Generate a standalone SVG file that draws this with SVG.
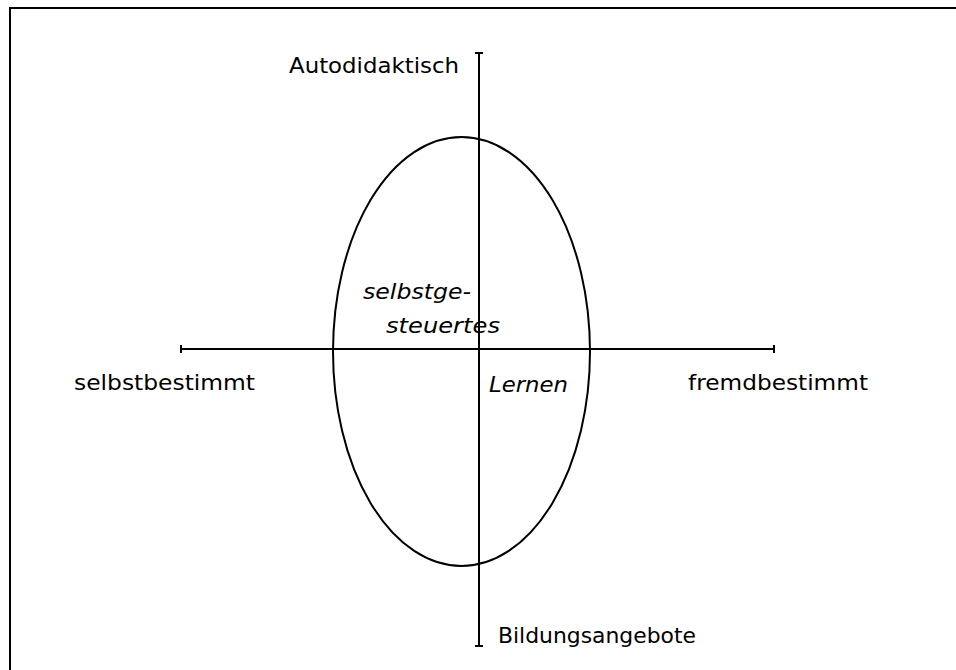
<svg xmlns="http://www.w3.org/2000/svg" width="956" height="670" viewBox="0 0 956 670">
<style>
.ln{stroke:#000;stroke-width:2;fill:none}
.t{font-family:"DejaVu Sans",sans-serif;font-size:21px;fill:#000}
.i{font-style:italic}
</style>
<rect width="956" height="670" fill="#fff"/>
<g id="frame"><path class="ln" d="M10,670 V8 H956" stroke-width="3"/></g>
<g id="connectors">
<path class="ln" d="M479,53 V646 M475,53 H483 M475,646 H483"/>
<path class="ln" d="M181,349 H774 M181,345 V353 M774,345 V353"/>
</g>
<g id="ellipse"><ellipse class="ln" cx="461.5" cy="351.5" rx="128.5" ry="214.5"/></g>
<g id="labels">
<text class="t" x="289" y="73" textLength="170" lengthAdjust="spacingAndGlyphs">Autodidaktisch</text>
<text class="t" x="74" y="390" textLength="181" lengthAdjust="spacingAndGlyphs">selbstbestimmt</text>
<text class="t" x="688" y="390" textLength="180" lengthAdjust="spacingAndGlyphs">fremdbestimmt</text>
<text class="t" x="498" y="643" textLength="198" lengthAdjust="spacingAndGlyphs">Bildungsangebote</text>
<text class="t i" x="363" y="299" textLength="108" lengthAdjust="spacingAndGlyphs">selbstge-</text>
<text class="t i" x="386" y="333" textLength="114" lengthAdjust="spacingAndGlyphs">steuertes</text>
<text class="t i" x="489" y="392" textLength="79" lengthAdjust="spacingAndGlyphs">Lernen</text>
</g>
</svg>
